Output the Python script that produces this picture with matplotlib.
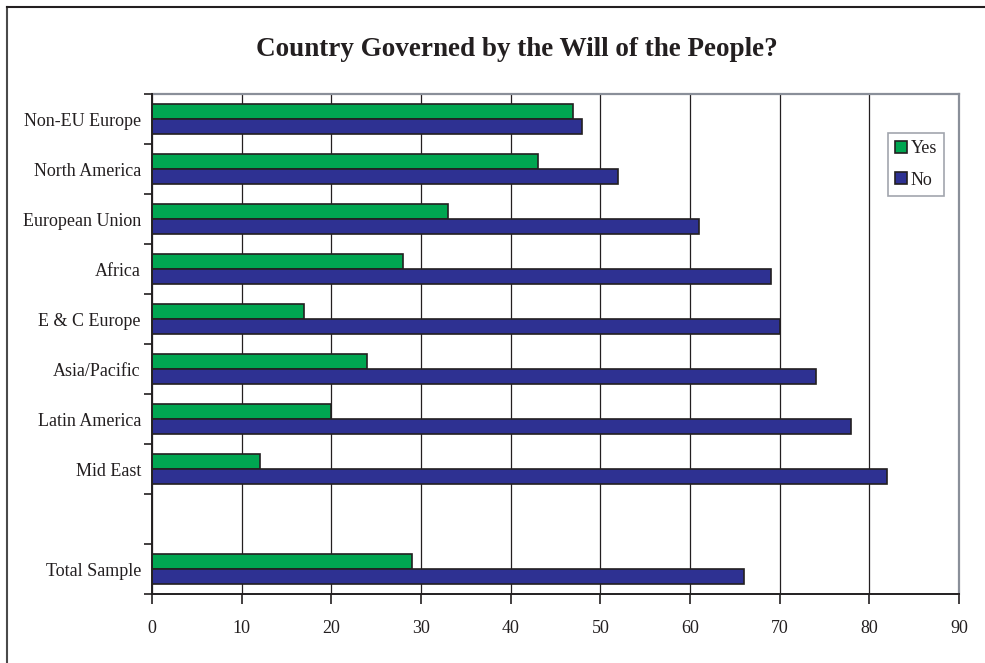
import matplotlib
matplotlib.use("Agg")
import matplotlib.pyplot as plt
import numpy as np
from matplotlib.lines import Line2D

categories = ["Non-EU Europe", "North America", "European Union", "Africa",
              "E & C Europe", "Asia/Pacific", "Latin America", "Mid East", "",
              "Total Sample"]
yes_vals = [47, 43, 33, 28, 17, 24, 20, 12, None, 29]
no_vals = [48, 52, 61, 69, 70, 74, 78, 82, None, 66]
x_ticks = [0, 10, 20, 30, 40, 50, 60, 70, 80, 90]

plt.rcParams['font.family'] = ['Liberation Serif', 'DejaVu Serif']

fig = plt.figure(figsize=(9.85, 6.63), dpi=100)
W, H = 985, 663
ax = fig.add_axes([152 / W, 1 - 594 / H, (959 - 152) / W, (594 - 94) / H])

n = len(categories)
pos = np.arange(n)
bh = 0.3
green = "#00A651"
navy = "#2E3192"
edge = "#231F20"
fs = 13
for i, (y, nv) in enumerate(zip(yes_vals, no_vals)):
    if y is None:
        continue
    ax.barh(pos[i] - bh / 2, y, height=bh, color=green, edgecolor=edge, linewidth=1.2, zorder=3,
            label="Yes" if i == 0 else None)
    ax.barh(pos[i] + bh / 2, nv, height=bh, color=navy, edgecolor=edge, linewidth=1.2, zorder=3,
            label="No" if i == 0 else None)

ax.set_ylim(n - 0.5, -0.5)
ax.set_xlim(0, 90)
ax.set_xticks(x_ticks)
ax.set_xticklabels([str(t) for t in x_ticks], fontsize=fs, color="#231F20")
ax.set_yticks(pos)
ax.set_yticklabels(categories, fontsize=fs, color="#231F20")
ax.tick_params(axis='y', length=0, pad=8)
ax.set_yticks(np.arange(-0.5, n, 1.0), minor=True)
ax.tick_params(axis='y', which='minor', length=6, width=1.2, color=edge)
ax.tick_params(axis='x', length=7, width=1.2, color=edge, pad=12)

ax.xaxis.grid(True, color="#231F20", linewidth=0.9, zorder=0)
ax.set_axisbelow(True)
for s in ['left', 'bottom']:
    ax.spines[s].set_color(edge)
    ax.spines[s].set_linewidth(1.4)
    ax.spines[s].set_zorder(5)
for s in ['top', 'right']:
    ax.spines[s].set_color("#8A8F99")
    ax.spines[s].set_linewidth(1.6)

leg = ax.legend(loc='upper left', bbox_to_anchor=((888 - 152) / (959 - 152), 1 - (133 - 94) / 500),
                fontsize=fs, frameon=True, fancybox=False, handlelength=0.65, handleheight=0.65,
                handletextpad=0.2, borderpad=0.4, labelspacing=0.8, borderaxespad=0)
leg.get_frame().set_edgecolor("#8A8F99")
leg.get_frame().set_linewidth(1.2)
for t in leg.get_texts():
    t.set_color("#231F20")

fig.text(517 / W, 1 - 49 / H, "Country Governed by the Will of the People?", ha='center', va='center',
         fontsize=19.5, fontweight='bold', color="#231F20")

# figure frame lines (top and left)
fig.add_artist(Line2D([7 / W, 7 / W], [0, 1 - 7 / H], transform=fig.transFigure, color="#4A4A4A", linewidth=1.5))
fig.add_artist(Line2D([7 / W, 1], [1 - 7 / H, 1 - 7 / H], transform=fig.transFigure, color="#231F20", linewidth=1.5))

fig.savefig("out.png", dpi=100)
